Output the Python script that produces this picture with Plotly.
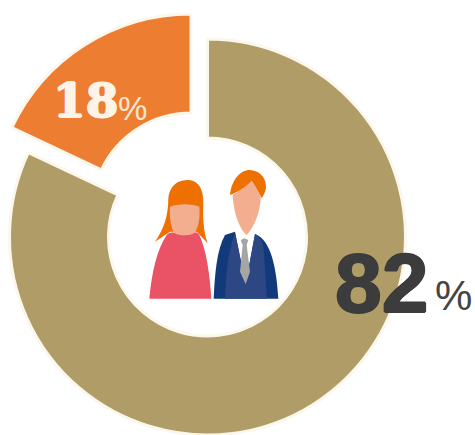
import re
import plotly.graph_objects as go

labels = ["Men", "Women"]
values = [82, 18]
tan = "#b09c66"
orange = "#ed7d31"
border = "#fcf7ec"
W, H = 475, 435
PAD = 20  # the figure extends this far left of the window so the detached slice keeps full radius
FW = W + PAD


def dom(cx, cy, r):
    return dict(x=[(cx + PAD - r) / FW, (cx + PAD + r) / FW], y=[1 - (cy + r) / H, 1 - (cy - r) / H])


def ring(colors, domain, hole):
    lines = [border if c != "rgba(0,0,0,0)" else "rgba(0,0,0,0)" for c in colors]
    return go.Pie(
        labels=labels, values=values, sort=False, direction="clockwise", rotation=0,
        hole=hole, domain=domain, textinfo="none", hoverinfo="skip", showlegend=False,
        marker=dict(colors=colors, line=dict(color=lines, width=3)),
    )


fig = go.Figure([
    ring([tan, "rgba(0,0,0,0)"], dom(207.5, 237, 198), 0.5),
    ring(["rgba(0,0,0,0)", orange], dom(191, 212, 198), 0.5),
])

people = [
    ("#ee7000", "M45 245 C70 210 85 170 85 115 C90 70 120 60 145 60 C175 62 190 85 190 130 C188 170 190 215 203 250 L170 215 L90 215 Z"),
    ("#ea5365", "M28 416 C35 340 50 270 80 225 C95 210 105 222 135 224 C160 222 165 208 178 225 C200 270 210 350 214 416 Z"),
    ("#f3ae8f", "M90 140 C110 130 160 130 178 140 C180 170 178 200 162 220 C150 228 115 228 102 218 C92 200 88 170 90 140 Z"),
    ("#f5b040", "M87 183 A5 5 0 1 1 97 183 A5 5 0 1 1 87 183 Z"),
    ("#f5b040", "M168 187 A5 5 0 1 1 178 187 A5 5 0 1 1 168 187 Z"),
    ("#103a7a", "M221 416 C225 340 230 270 255 225 L285 215 L317 372 L345 222 C395 240 410 330 415 416 Z"),
    ("#2d4784", "M255 416 C258 350 262 280 285 218 L317 372 L345 222 C368 232 372 260 373 300 L381 416 Z"),
    ("#a5a5a5", "M302 240 L313 235 L325 240 L320 255 L330 335 L317 372 L300 335 L308 255 Z"),
    ("#f3ae8f", "M335 62 C345 75 355 95 362 112 C362 150 345 200 320 225 C300 210 280 160 278 103 C295 95 320 80 335 62 Z"),
    ("#ee7000", "M270 105 C275 60 300 30 330 30 C365 32 380 60 378 85 C375 100 368 110 365 115 C355 95 345 75 335 62 C320 80 295 95 270 105 Z"),
]


def convert(path):
    parts = re.findall(r"[A-Za-z]|-?[\d.]+", path)
    out, i, cmd = [], 0, ""
    while i < len(parts):
        p = parts[i]
        if p.isalpha():
            cmd = p
            out.append(p)
            i += 1
            continue
        if cmd == "A":
            rx, ry, rot, la, sw, x, y = parts[i:i + 7]
            out += [f"{float(rx)/3/FW:.5f}", f"{float(ry)/3/H:.5f}", rot, la, sw,
                    f"{(PAD+140+float(x)/3)/FW:.5f},{1-(160+float(y)/3)/H:.5f}"]
            i += 7
        else:
            x, y = parts[i:i + 2]
            out.append(f"{(PAD+140+float(x)/3)/FW:.5f},{1-(160+float(y)/3)/H:.5f}")
            i += 2
    return " ".join(out)


shapes = [dict(type="path", xref="paper", yref="paper", path=convert(p),
               fillcolor=c, line=dict(width=0), layer="above") for c, p in people]


def note(text, x, y, family, size, color, bold=False, heavy=False):
    font = dict(family=family, size=size, color=color)
    if heavy:
        font["shadow"] = f"1px 0 0 {color}, -1px 0 0 {color}, 0 1px 0 {color}, 0 -1px 0 {color}"
    return dict(text=f"<b>{text}</b>" if bold else text, x=(x + PAD) / FW, y=1 - y / H, xref="paper", yref="paper",
                xanchor="left", yanchor="middle", showarrow=False, font=font)


fig.update_layout(
    width=FW, height=H, margin=dict(l=0, r=0, t=0, b=0), paper_bgcolor="white", plot_bgcolor="white",
    shapes=shapes,
    annotations=[
        note("18", 51, 101, "DejaVu Serif", 47, "#fdf3e6", True, True),
        note("%", 116, 108, "Liberation Sans", 33, "#fbe6cf"),
        note("82", 333, 283, "Liberation Sans", 84, "#3c3c3c", True, True),
        note("%", 433, 295, "Liberation Sans", 42, "#444444"),
    ],
)
fig.write_html("out.html", config={"displayModeBar": False},
               post_script=f"document.body.style.margin='0 0 0 {-PAD}px';")
